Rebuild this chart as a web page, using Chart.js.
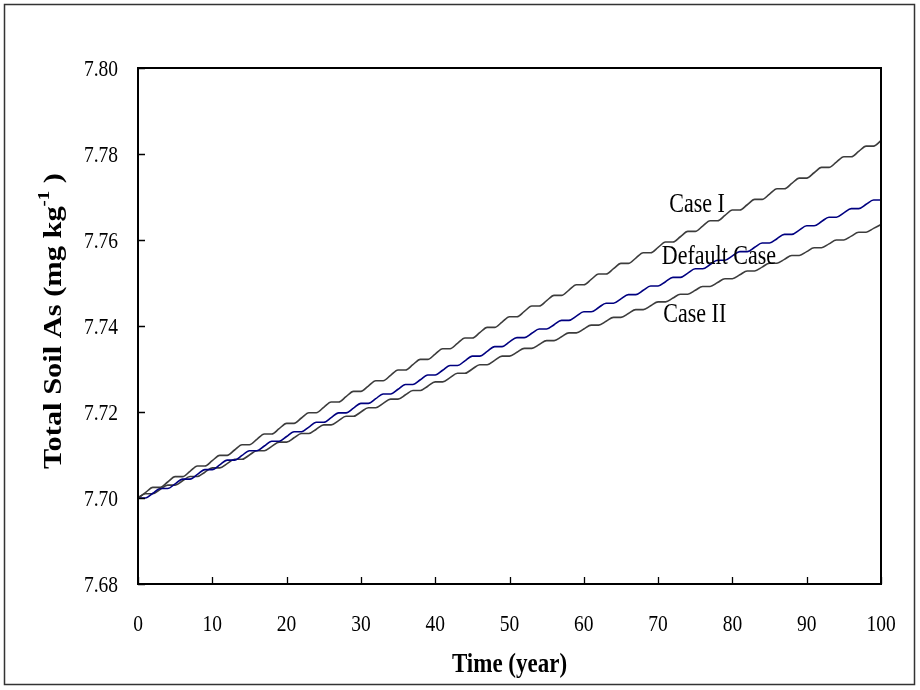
<!DOCTYPE html>
<html>
<head>
<meta charset="utf-8">
<script src="https://cdn.jsdelivr.net/npm/chart.js@4/dist/chart.umd.min.js"></script>
<style>
  html, body { margin: 0; padding: 0; background: #fff; }
  #wrap { width: 920px; height: 690px; position: relative; }
</style>
</head>
<body>
<div id="wrap"><canvas id="c" width="920" height="690"></canvas></div>
<script>
const years = [0,1,2,3,4,5,6,7,8,9,10,11,12,13,14,15,16,17,18,19,20,21,22,23,24,25,26,27,28,29,30,31,32,33,34,35,36,37,38,39,40,41,42,43,44,45,46,47,48,49,50,51,52,53,54,55,56,57,58,59,60,61,62,63,64,65,66,67,68,69,70,71,72,73,74,75,76,77,78,79,80,81,82,83,84,85,86,87,88,89,90,91,92,93,94,95,96,97,98,99,100];

const caseI = [7.70000,7.70124,7.70248,7.70248,7.70372,7.70496,7.70496,7.70620,7.70744,7.70744,
7.70868,7.70992,7.70992,7.71116,7.71240,7.71240,7.71364,7.71488,7.71488,7.71612,
7.71736,7.71736,7.71860,7.71984,7.71984,7.72108,7.72232,7.72232,7.72356,7.72480,
7.72480,7.72604,7.72728,7.72728,7.72852,7.72976,7.72976,7.73100,7.73224,7.73224,
7.73348,7.73472,7.73472,7.73596,7.73720,7.73720,7.73844,7.73968,7.73968,7.74092,
7.74216,7.74216,7.74340,7.74464,7.74464,7.74588,7.74712,7.74712,7.74836,7.74960,
7.74960,7.75084,7.75208,7.75208,7.75332,7.75456,7.75456,7.75580,7.75704,7.75704,
7.75828,7.75952,7.75952,7.76076,7.76200,7.76200,7.76324,7.76448,7.76448,7.76572,
7.76696,7.76696,7.76820,7.76944,7.76944,7.77068,7.77192,7.77192,7.77316,7.77440,
7.77440,7.77564,7.77688,7.77688,7.77812,7.77936,7.77936,7.78060,7.78184,7.78184,
7.78308];

const defaultCase = [7.70000,7.70000,7.70110,7.70220,7.70220,7.70330,7.70440,7.70440,7.70550,7.70660,
7.70660,7.70770,7.70880,7.70880,7.70990,7.71100,7.71100,7.71210,7.71320,7.71320,
7.71430,7.71540,7.71540,7.71650,7.71760,7.71760,7.71870,7.71980,7.71980,7.72090,
7.72200,7.72200,7.72310,7.72420,7.72420,7.72530,7.72640,7.72640,7.72750,7.72860,
7.72860,7.72970,7.73080,7.73080,7.73190,7.73300,7.73300,7.73410,7.73520,7.73520,
7.73630,7.73730,7.73730,7.73830,7.73930,7.73930,7.74030,7.74130,7.74130,7.74230,
7.74330,7.74330,7.74430,7.74530,7.74530,7.74630,7.74730,7.74730,7.74830,7.74930,
7.74930,7.75030,7.75130,7.75130,7.75230,7.75330,7.75330,7.75430,7.75530,7.75530,
7.75630,7.75730,7.75730,7.75830,7.75930,7.75930,7.76030,7.76130,7.76130,7.76230,
7.76330,7.76330,7.76430,7.76530,7.76530,7.76630,7.76730,7.76730,7.76830,7.76930,
7.76930];

const caseII = [7.70000,7.70100,7.70100,7.70200,7.70300,7.70300,7.70400,7.70500,7.70500,7.70600,
7.70700,7.70700,7.70800,7.70900,7.70900,7.71000,7.71100,7.71100,7.71200,7.71300,
7.71300,7.71400,7.71500,7.71500,7.71600,7.71700,7.71700,7.71800,7.71900,7.71900,
7.72000,7.72100,7.72100,7.72200,7.72300,7.72300,7.72400,7.72500,7.72500,7.72600,
7.72700,7.72700,7.72800,7.72900,7.72900,7.73000,7.73100,7.73100,7.73200,7.73300,
7.73300,7.73390,7.73480,7.73480,7.73570,7.73660,7.73660,7.73750,7.73840,7.73840,
7.73930,7.74020,7.74020,7.74110,7.74200,7.74200,7.74290,7.74380,7.74380,7.74470,
7.74560,7.74560,7.74650,7.74740,7.74740,7.74830,7.74920,7.74920,7.75010,7.75100,
7.75100,7.75190,7.75280,7.75280,7.75370,7.75460,7.75460,7.75550,7.75640,7.75640,
7.75730,7.75820,7.75820,7.75910,7.76000,7.76000,7.76090,7.76180,7.76180,7.76270,
7.76360];

const seriesNames = ["Case I", "Default Case", "Case II"];
// curve labels anchored in data coordinates (left edge year, baseline value)
const labelTexts = ["Case I", "Default Case", "Case II"];
const labelYears = [71.5, 70.5, 70.7];
const labelValues = [7.7665, 7.7544, 7.7409];

const xTitle = "Time (year)";
const yTitleMain = "Total Soil As (mg kg";
const yTitleSup = "-1";
const yTitleEnd = " )";

const SERIF = "'Liberation Serif', 'Times New Roman', serif";
const STRETCH = 1.22; // the reference glyphs are taller than wide

function pts(vals) { return years.map((t, i) => ({ x: t, y: vals[i] })); }

function sText(ctx, s, x, y) {
  ctx.save();
  ctx.translate(x, y);
  ctx.scale(1, STRETCH);
  ctx.fillText(s, 0, 0);
  ctx.restore();
}

const decor = {
  id: 'decor',
  beforeDraw(chart) {
    const ctx = chart.ctx;
    ctx.save();
    ctx.fillStyle = '#fff';
    ctx.fillRect(0, 0, chart.width, chart.height);
    ctx.restore();
  },
  afterDatasetsDraw(chart) {
    const ctx = chart.ctx;
    const a = chart.chartArea;
    const xs = chart.scales.x, ys = chart.scales.y;
    ctx.save();
    // plot frame
    ctx.strokeStyle = '#000';
    ctx.lineWidth = 2;
    ctx.strokeRect(a.left, a.top, a.right - a.left, a.bottom - a.top);
    // inward ticks
    ctx.lineWidth = 1.3;
    ctx.beginPath();
    xs.ticks.forEach(t => {
      const px = Math.round(xs.getPixelForValue(t.value)) + 0.5;
      ctx.moveTo(px, a.bottom); ctx.lineTo(px, a.bottom - 7);
    });
    ys.ticks.forEach(t => {
      const py = Math.round(ys.getPixelForValue(t.value)) + 0.5;
      ctx.moveTo(a.left, py); ctx.lineTo(a.left + 7, py);
    });
    ctx.stroke();
    // tick labels from the scales' own ticks
    ctx.fillStyle = '#000';
    ctx.font = "19.5px " + SERIF;
    ctx.textBaseline = 'alphabetic';
    ctx.textAlign = 'center';
    xs.ticks.forEach(t => sText(ctx, String(t.value), xs.getPixelForValue(t.value), a.bottom + 47));
    ctx.textAlign = 'right';
    ys.ticks.forEach(t => sText(ctx, t.value.toFixed(2), a.left - 20, ys.getPixelForValue(t.value) + 8));
    // curve labels
    ctx.font = "22px " + SERIF;
    ctx.textAlign = 'left';
    labelTexts.forEach((s, i) => {
      sText(ctx, s, xs.getPixelForValue(labelYears[i]), ys.getPixelForValue(labelValues[i]));
    });
    // x title
    ctx.font = "bold 23px " + SERIF;
    ctx.textAlign = 'center';
    sText(ctx, xTitle, (a.left + a.right) / 2, 672);
    // y title with superscript (rotated; stretched along its length)
    ctx.translate(61, (a.top + a.bottom) / 2 - 5);
    ctx.rotate(-Math.PI / 2);
    ctx.scale(1.17, 1);
    const fMain = "bold 26px " + SERIF, fSup = "bold 16px " + SERIF;
    ctx.font = fMain; const w1 = ctx.measureText(yTitleMain).width;
    const w3 = ctx.measureText(yTitleEnd).width;
    ctx.font = fSup; const w2 = ctx.measureText(yTitleSup).width;
    let x0 = -(w1 + w2 + w3) / 2;
    ctx.textAlign = 'left';
    ctx.font = fMain; ctx.fillText(yTitleMain, x0, 0);
    ctx.font = fSup; ctx.fillText(yTitleSup, x0 + w1, -12);
    ctx.font = fMain; ctx.fillText(yTitleEnd, x0 + w1 + w2, 0);
    ctx.restore();
    // outer border
    ctx.save();
    ctx.strokeStyle = '#333';
    ctx.lineWidth = 1.5;
    ctx.strokeRect(4.5, 4.5, 910, 680);
    ctx.restore();
  }
};

new Chart(document.getElementById('c'), {
  type: 'line',
  data: {
    datasets: [
      { label: seriesNames[0], data: pts(caseI), borderColor: '#3c3c3c', borderWidth: 1.6 },
      { label: seriesNames[1], data: pts(defaultCase), borderColor: '#000080', borderWidth: 1.6 },
      { label: seriesNames[2], data: pts(caseII), borderColor: '#3c3c3c', borderWidth: 1.6 }
    ]
  },
  options: {
    responsive: false,
    animation: false,
    devicePixelRatio: 1,
    layout: { padding: { left: 0, right: 39, top: 68, bottom: 0 } },
    elements: { point: { radius: 0 }, line: { cubicInterpolationMode: 'monotone', fill: false } },
    plugins: { legend: { display: false }, tooltip: { enabled: false } },
    scales: {
      x: {
        type: 'linear', min: 0, max: 100,
        afterFit(s) { s.height = 106; },
        ticks: { stepSize: 10, display: false },
        grid: { display: false },
        border: { display: false }
      },
      y: {
        type: 'linear', min: 7.68, max: 7.80,
        afterFit(s) { s.width = 138; },
        ticks: { stepSize: 0.02, display: false },
        grid: { display: false },
        border: { display: false }
      }
    }
  },
  plugins: [decor]
});
</script>
</body>
</html>
